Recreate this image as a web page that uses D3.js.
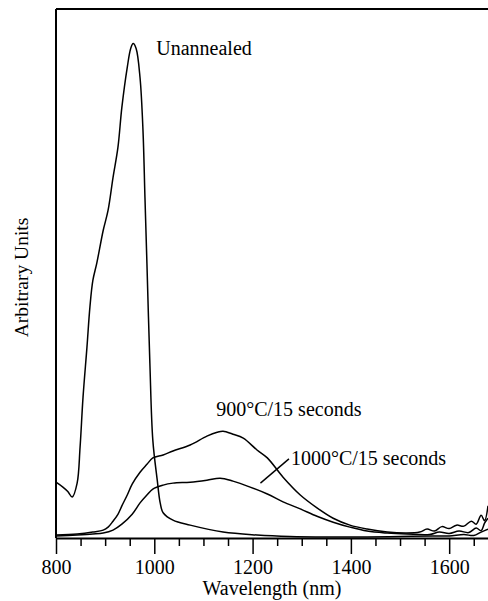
<!DOCTYPE html>
<html>
<head>
<meta charset="utf-8">
<script src="https://cdn.jsdelivr.net/npm/d3@7"></script>
<style>
  body { margin: 0; background: #fff; }
  text { font-family: "Liberation Serif", "Times New Roman", serif; fill: #000; }
</style>
</head>
<body>
<div id="my_dataviz"></div>
<script>
// spectra: [wavelength nm, arbitrary units]
const unannealed = [
  [800, 11.3], [814, 10.3], [824, 9.4], [833, 8.3], [843, 11.1], [849, 18.4], [855, 28.5],
  [863, 38.6], [869, 46.7], [875, 52.1], [883, 55.6], [896, 62.2], [906, 66.3],
  [916, 72.9], [926, 79.0], [934, 87.1], [945, 95.2], [952, 99.0], [957, 100],
  [963, 99.0], [971, 93.1], [977, 82.4], [981, 68.9], [985, 55.6], [991, 35.4],
  [997, 19.8], [1006, 11.7], [1012, 7.1], [1018, 5.1], [1038, 3.6], [1073, 2.6],
  [1140, 1.2], [1209, 0.6], [1276, 0.3], [1364, 0.2], [1433, 0.2], [1500, 0.3],
  [1567, 0.4], [1600, 0.4], [1630, 0.7], [1650, 0.5], [1665, 1.2], [1679, 1.8]
];
const c900 = [
  [800, 0.6], [843, 0.8], [875, 1.2], [896, 1.6], [906, 2.2], [916, 3.4], [926, 4.8],
  [934, 6.5], [945, 8.7], [955, 10.9], [971, 13.3], [985, 14.9], [997, 16.2],
  [1018, 16.8], [1038, 17.6], [1073, 18.8], [1107, 20.6], [1128, 21.4], [1140, 21.6],
  [1160, 21.0], [1181, 20.2], [1209, 17.8], [1230, 16.2], [1262, 12.3], [1297, 8.7],
  [1331, 6.1], [1364, 4.0], [1398, 2.6], [1433, 1.8], [1474, 1.2], [1514, 1.0],
  [1540, 1.2], [1555, 1.8], [1570, 1.4], [1585, 2.3], [1600, 1.9], [1615, 2.6],
  [1630, 2.4], [1645, 3.4], [1655, 2.8], [1665, 4.6], [1672, 3.5], [1679, 6.5]
];
const c1000 = [
  [800, 0.4], [843, 0.6], [875, 0.8], [896, 1.0], [916, 1.6], [934, 2.8], [955, 4.8],
  [971, 7.1], [985, 8.7], [997, 9.9], [1018, 10.7], [1038, 11.1], [1073, 11.3],
  [1107, 11.7], [1134, 12.1], [1160, 11.5], [1195, 10.3], [1230, 8.9], [1262, 7.3],
  [1297, 5.9], [1331, 4.4], [1364, 3.2], [1398, 2.2], [1433, 1.4], [1474, 1.0],
  [1514, 0.8], [1560, 0.7], [1580, 1.2], [1600, 0.9], [1620, 1.4], [1640, 1.1],
  [1655, 2.0], [1665, 1.5], [1672, 3.0], [1679, 4.0]
];
const majorTicks = [800, 1000, 1200, 1400, 1600];
const minorTicks = d3.range(850, 1700, 50).filter(d => d % 200 != 0);

const margin = {top: 9, right: 0, bottom: 63, left: 56},
    width = 488 - margin.left - margin.right,
    height = 601 - margin.top - margin.bottom;

const svg = d3.select("#my_dataviz").append("svg").attr("width", 488).attr("height", 601)
  .append("g").attr("transform", `translate(${margin.left},${margin.top})`);

const x = d3.scaleLinear().domain([800, 1679]).range([0, width]);
const y = d3.scaleLinear().domain([0, 107]).range([height, 0]);

// minor ticks first, then the labelled ones
svg.append("g").attr("transform", "translate(0," + height + ")")
  .call(d3.axisBottom(x).tickValues(minorTicks).tickSize(8).tickFormat(""))
  .call(g => g.select(".domain").remove())
  .selectAll("line").attr("stroke-width", 1.5);

const xAxis = svg.append("g").attr("transform", "translate(0," + height + ")")
  .call(d3.axisBottom(x).tickValues(majorTicks).tickSize(16).tickSizeOuter(0).tickPadding(6).tickFormat(d3.format("d")));
xAxis.selectAll("text").attr("font-size", 20);
xAxis.selectAll("line").attr("stroke-width", 1.5);
xAxis.select(".domain").attr("stroke-width", 2);

// frame: left and top
svg.append("line").attr("x1", 0).attr("x2", 0).attr("y1", 0).attr("y2", height)
  .attr("stroke", "#000").attr("stroke-width", 2);
svg.append("line").attr("x1", 0).attr("x2", width).attr("y1", 0).attr("y2", 0)
  .attr("stroke", "#000").attr("stroke-width", 2);

const line = d3.line()
  .x(function(d) { return x(d[0]); })
  .y(function(d) { return y(d[1]); })
  .curve(d3.curveCatmullRom);

[unannealed, c900, c1000].forEach(function(s) {
  svg.append("path").datum(s)
    .attr("d", line)
    .attr("fill", "none")
    .attr("stroke", "#000")
    .attr("stroke-width", 1.5);
});

// labels
svg.append("text").attr("x", x(1004)).attr("y", y(97.6)).attr("font-size", 20).text("Unannealed");
svg.append("text").attr("x", x(1126)).attr("y", y(24.6)).attr("font-size", 20).text("900°C/15 seconds");
svg.append("text").attr("x", x(1278)).attr("y", y(14.7)).attr("font-size", 20).text("1000°C/15 seconds");
svg.append("line")
  .attr("x1", x(1216)).attr("y1", y(11.1)).attr("x2", x(1274)).attr("y2", y(16.0))
  .attr("stroke", "#000").attr("stroke-width", 1.4);

svg.append("text").attr("x", width / 2).attr("y", height + 57)
  .attr("text-anchor", "middle").attr("font-size", 20).text("Wavelength (nm)");
svg.append("text").attr("transform", `translate(${-margin.left + 28},${height / 2 + 4}) rotate(-90)`)
  .attr("text-anchor", "middle").attr("font-size", 19.5).text("Arbitrary Units");
</script>
</body>
</html>
